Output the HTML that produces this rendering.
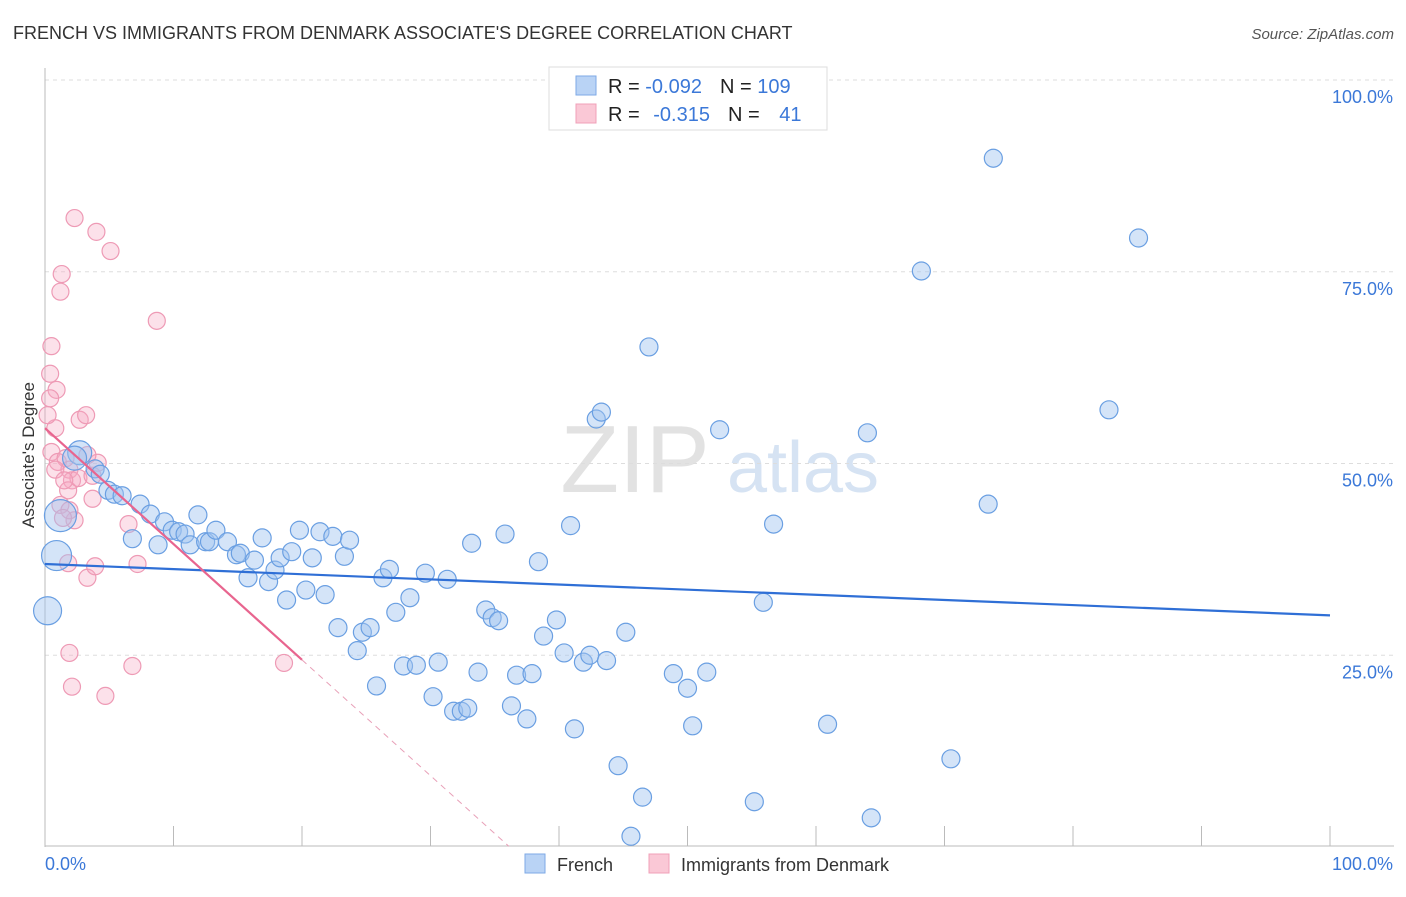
<!DOCTYPE html>
<html><head><meta charset="utf-8"><style>
body{margin:0;background:#fff;font-family:"Liberation Sans",sans-serif}
svg text{font-family:"Liberation Sans",sans-serif}
</style></head><body>
<svg id="chart" width="1406" height="892" xmlns="http://www.w3.org/2000/svg">
<text x="13" y="39" font-size="18" fill="#333">FRENCH VS IMMIGRANTS FROM DENMARK ASSOCIATE'S DEGREE CORRELATION CHART</text>
<text x="1394" y="39" font-size="15" fill="#555" text-anchor="end" font-style="italic">Source: ZipAtlas.com</text>
<g>
<text x="635" y="492" font-size="96" fill="#e2e2e2" text-anchor="middle" font-family="Liberation Serif,serif">ZIP</text>
<text x="803" y="492" font-size="72" fill="#d6e3f3" text-anchor="middle">atlas</text>
</g>
<g id="grid"></g>
<g id="axes"></g>
<g id="marks"></g>
<g id="trends"></g>
<text transform="translate(34,455) rotate(-90)" font-size="17" fill="#333" text-anchor="middle">Associate's Degree</text>
<g>
<rect x="549" y="67" width="278" height="63" fill="#fff" stroke="#ddd"/>
<rect x="576" y="76" width="20" height="19" fill="#b9d3f5" stroke="#7ea9e6"/>
<rect x="576" y="104" width="20" height="19" fill="#fac8d6" stroke="#f0a0b8"/>
<text x="608" y="93" font-size="20" fill="#222">R = <tspan fill="#3b78d8">-0.092</tspan><tspan dx="18">N = </tspan><tspan fill="#3b78d8">109</tspan></text>
<text x="608" y="121" font-size="20" fill="#222">R = <tspan fill="#3b78d8" dx="8">-0.315</tspan><tspan dx="18">N = </tspan><tspan fill="#3b78d8" dx="14">41</tspan></text>
</g>
<g>
<rect x="525" y="854" width="20" height="19" fill="#b9d3f5" stroke="#7ea9e6"/>
<text x="557" y="871" font-size="18" fill="#333">French</text>
<rect x="649" y="854" width="20" height="19" fill="#fac8d6" stroke="#f0a0b8"/>
<text x="681" y="871" font-size="18" fill="#333">Immigrants from Denmark</text>
</g>
</svg>
<script>
const yTicks=[25,50,75,100];
const yTickLabels=["25.0%","50.0%","75.0%","100.0%"];
const xTicks=[0,10,20,30,40,50,60,70,80,90,100];
const frenchX=[0.2,0.9,1.2,2.7,2.3,3.9,4.3,4.9,5.4,6.0,7.4,8.2,6.8,8.8,9.3,9.9,10.4,10.9,11.3,11.9,12.5,12.8,13.3,14.2,14.9,15.2,15.8,16.3,16.9,17.4,17.9,18.3,18.8,19.2,19.8,20.3,20.8,21.4,21.8,22.4,22.8,23.3,23.7,24.3,24.7,25.3,25.8,26.3,26.8,27.3,27.9,28.4,28.9,29.6,30.2,30.6,31.3,31.8,32.4,32.9,33.2,33.7,34.3,34.8,35.3,35.8,36.3,36.7,37.5,37.9,38.4,38.8,39.8,40.4,40.9,41.2,41.9,42.4,42.9,43.3,43.7,44.6,45.2,45.6,46.5,47.0,48.9,50.0,50.4,51.5,52.5,55.2,55.9,56.7,60.9,64.0,64.3,68.2,70.5,73.4,73.8,82.8,85.1];
const frenchY=[30.8,38.0,43.2,51.4,50.7,49.3,48.6,46.5,46.0,45.8,44.7,43.4,40.2,39.4,42.4,41.3,41.1,40.8,39.4,43.3,39.8,39.8,41.3,39.8,38.1,38.3,35.1,37.4,40.3,34.6,36.1,37.7,32.2,38.5,41.3,33.5,37.7,41.1,32.9,40.5,28.6,37.9,40.0,25.6,28.0,28.6,21.0,35.1,36.2,30.6,23.6,32.5,23.7,35.7,19.6,24.1,34.9,17.7,17.7,18.1,39.6,22.8,30.9,29.9,29.5,40.8,18.4,22.4,16.7,22.6,37.2,27.5,29.6,25.3,41.9,15.4,24.1,25.0,55.8,56.7,24.3,10.6,28.0,1.4,6.5,65.2,22.6,20.7,15.8,22.8,54.4,5.9,31.9,42.1,16.0,54.0,3.8,75.1,11.5,44.7,89.8,57.0,79.4];
const frenchBig=[14,15,16,12,12];
const denX=[2.3,4.0,5.1,1.3,1.2,8.7,0.5,0.4,0.9,0.4,0.8,0.2,2.7,3.2,0.5,1.0,1.6,1.9,2.1,1.8,2.6,3.7,4.1,3.7,1.2,2.3,1.9,6.5,3.3,3.9,1.8,7.2,1.9,2.1,4.7,6.8,18.6,0.8,1.5,3.3,1.4];
const denY=[82.0,80.2,77.7,74.7,72.4,68.6,65.3,61.7,59.6,58.5,54.6,56.3,55.7,56.3,51.5,50.2,50.7,49.2,47.8,46.5,48.1,48.4,50.1,45.4,44.6,42.6,43.9,42.1,35.1,36.6,37.0,36.9,25.3,20.9,19.7,23.6,24.0,49.2,47.8,51.1,42.9];
const frenchTrend=[36.9,30.2];
const denTrend=[54.6,24.4];
const denTrendSolidEnd=20;
const denTrendDashEnd=36.1;

const X=v=>45+v*12.85, Y=v=>847-v*7.67;
const NS="http://www.w3.org/2000/svg";
function mk(tag,attrs,parent){const e=document.createElementNS(NS,tag);for(const k in attrs)e.setAttribute(k,attrs[k]);document.getElementById(parent).appendChild(e);return e;}
yTicks.forEach((t,i)=>{
 const g=mk('line',{x1:45,x2:1394,y1:Y(t),y2:Y(t),stroke:'#ddd','stroke-dasharray':'4,4'},'grid');
 
 
 const l=mk('text',{x:1393,y:Y(t)+23,'font-size':18,fill:'#3b78d8','text-anchor':'end'},'axes');
 l.textContent=yTickLabels[i];
 
 
});
const ya=mk('line',{x1:45,x2:45,y1:68,y2:847,stroke:'#bbb'},'axes');


const xa=mk('line',{x1:45,x2:1394,y1:846,y2:846,stroke:'#bbb'},'axes');


xTicks.forEach(t=>{const e=mk('line',{x1:X(t),x2:X(t),y1:826,y2:846,stroke:'#bbb'},'axes');
 
 });
const x0=mk('text',{x:45,y:870,'font-size':18,fill:'#3b78d8'},'axes');x0.textContent='0.0%';


const x1=mk('text',{x:1393,y:870,'font-size':18,fill:'#3b78d8','text-anchor':'end'},'axes');x1.textContent='100.0%';


denX.forEach((v,i)=>{const c=mk('circle',{cx:X(v),cy:Y(denY[i]),r:8.5,fill:'rgba(246,170,195,0.35)',stroke:'#ee9ab5','stroke-width':1.2},'marks');
 
 });
frenchX.forEach((v,i)=>{const r=i<frenchBig.length?frenchBig[i]:9;const c=mk('circle',{cx:X(v),cy:Y(frenchY[i]),r:r,fill:'rgba(160,196,240,0.45)',stroke:'#6a9fe2','stroke-width':1.2},'marks');
 
 });
const ft=mk('line',{x1:X(0),y1:Y(frenchTrend[0]),x2:X(100),y2:Y(frenchTrend[1]),stroke:'#2f6fd6','stroke-width':2.2},'trends');


const slope=(denTrend[1]-denTrend[0])/denTrendSolidEnd;
const dt=mk('line',{x1:X(0),y1:Y(denTrend[0]),x2:X(denTrendSolidEnd),y2:Y(denTrend[1]),stroke:'#e8658f','stroke-width':2.2},'trends');


const dd=mk('line',{x1:X(denTrendSolidEnd),y1:Y(denTrend[1]),x2:X(denTrendDashEnd),y2:Y(denTrend[0]+slope*denTrendDashEnd),stroke:'#e8a0b8','stroke-width':1,'stroke-dasharray':'6,5'},'trends');


</script>
</body></html>
